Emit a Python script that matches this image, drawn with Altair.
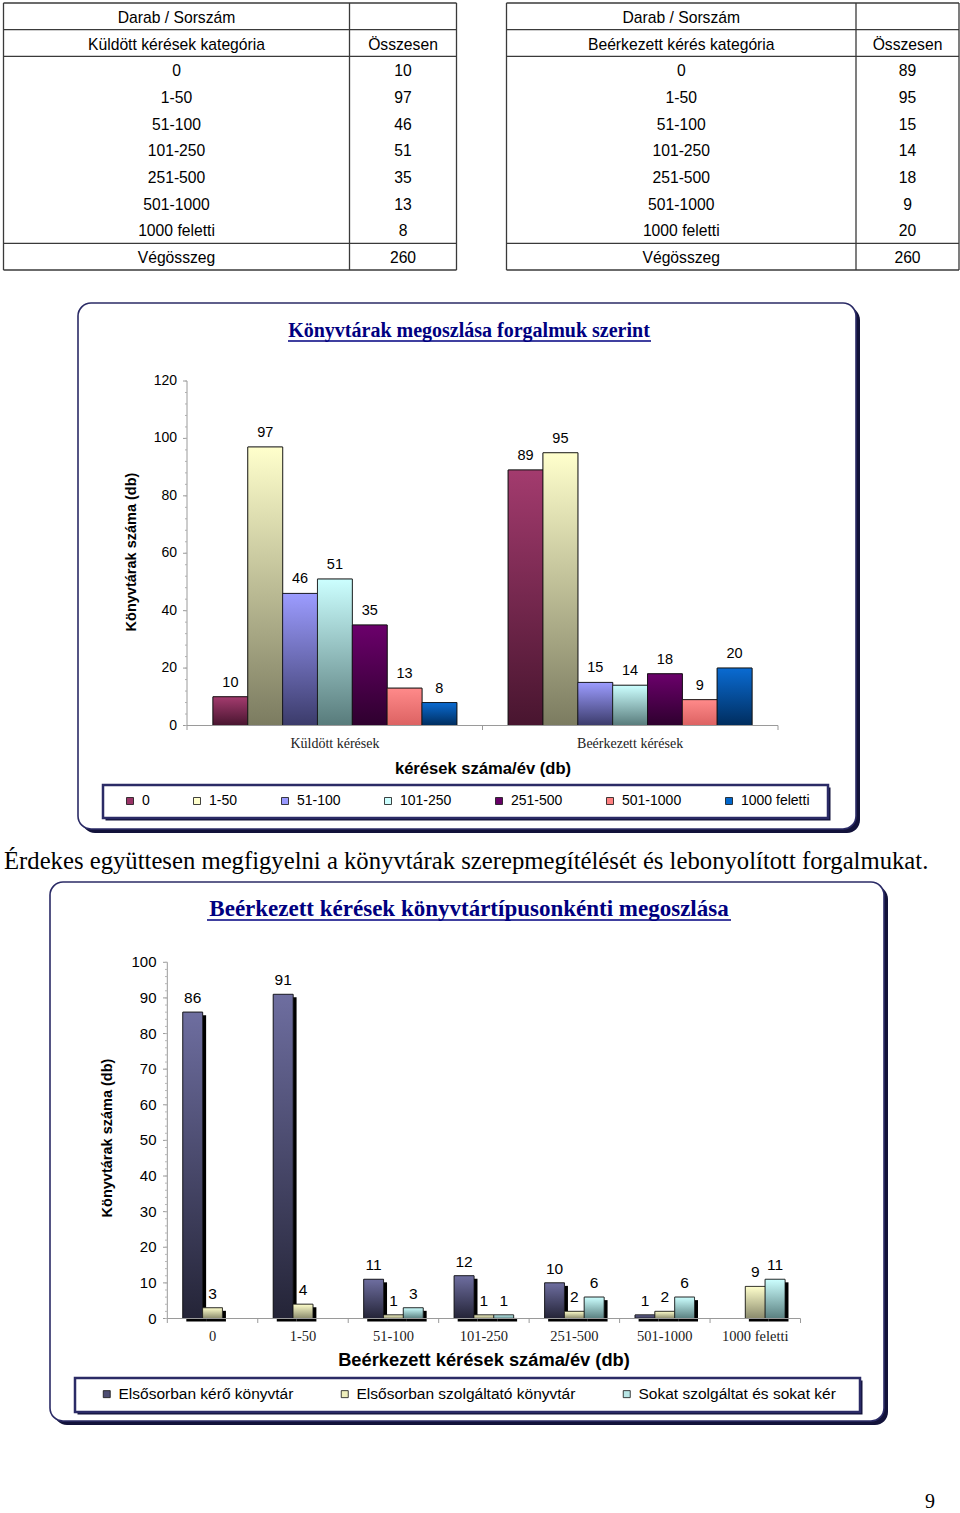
import altair as alt
import pandas as pd

# ---------------- data ----------------
categories = ["0", "1-50", "51-100", "101-250", "251-500", "501-1000", "1000 feletti"]
sent_counts = [10, 97, 46, 51, 35, 13, 8]
recv_counts = [89, 95, 15, 14, 18, 9, 20]
sent_total = 260
recv_total = 260

groups = ["Küldött kérések", "Beérkezett kérések"]

series2 = ["Elsősorban kérő könyvtár", "Elsősorban szolgáltató könyvtár",
           "Sokat szolgáltat és sokat kér"]
requester = [86, 91, 11, 12, 10, 1, None]
provider = [3, 4, 1, 1, 2, 2, 9]
both = [None, None, 3, 1, 6, 6, 11]

y1_ticks = [0, 20, 40, 60, 80, 100, 120]
y2_ticks = [0, 10, 20, 30, 40, 50, 60, 70, 80, 90, 100]

title1 = "Könyvtárak megoszlása forgalmuk szerint"
title2 = "Beérkezett kérések könyvtártípusonkénti megoszlása"
ytitle = "Könyvtárak száma (db)"
xtitle1 = "kérések száma/év (db)"
xtitle2 = "Beérkezett kérések száma/év (db)"
body_text = "Érdekes együttesen megfigyelni a könyvtárak szerepmegítélését és lebonyolított forgalmukat."
page_no = "9"

# ---------------- styling ----------------
SANS = "Liberation Sans"
SERIF = "Liberation Serif"
NAVY = "#000080"
FRAME = "#2b2b66"
SHADOW = "#12123a"

one = pd.DataFrame({"k": [0]})
layers = []


def grad(top, bottom):
    return alt.Gradient(gradient="linear",
                        stops=[alt.GradientStop(color=top, offset=0),
                               alt.GradientStop(color=bottom, offset=1)],
                        x1=0, x2=0, y1=0, y2=1)


def box(x0, y0, x1, y1, r, sh, sw):
    sh_l = alt.Chart(one).mark_rect(cornerRadius=r, fill=SHADOW).encode(
        x=alt.value(x0 + sh), x2=alt.value(x1 + sh),
        y=alt.value(y0 + sh), y2=alt.value(y1 + sh))
    main = alt.Chart(one).mark_rect(cornerRadius=r, fill="white", stroke=FRAME,
                                    strokeWidth=sw).encode(
        x=alt.value(x0), x2=alt.value(x1), y=alt.value(y0), y2=alt.value(y1))
    return [sh_l, main]


def label(text, x, y, size, font=SANS, weight="normal", color="black", angle=0,
          align="center"):
    return alt.Chart(one).mark_text(font=font, fontSize=size, fontWeight=weight,
                                    color=color, angle=angle, align=align,
                                    baseline="middle").encode(
        x=alt.value(x), y=alt.value(y), text=alt.value(text))


# ---------------- tables ----------------
rows = ["r%d" % i for i in range(10)]


def table(x0, xdiv, x1, header, counts, total):
    left = ["Darab / Sorszám", header] + categories + ["Végösszeg"]
    right = ["", "Összesen"] + [str(v) for v in counts] + [str(total)]
    df = pd.DataFrame({"row": rows, "a": left, "b": right})
    ys = alt.Scale(type="band", domain=rows, range=[3, 270], paddingInner=0, paddingOuter=0)
    out = []
    out.append(alt.Chart(df).mark_text(font=SANS, fontSize=15.7, baseline="middle", dy=1.5).encode(
        y=alt.Y("row:N", scale=ys, axis=None), x=alt.value((x0 + xdiv) / 2), text="a:N"))
    out.append(alt.Chart(df).mark_text(font=SANS, fontSize=15.7, baseline="middle", dy=1.5).encode(
        y=alt.Y("row:N", scale=ys, axis=None), x=alt.value((xdiv + x1) / 2), text="b:N"))
    hl = pd.DataFrame({"row": ["r0", "r1", "r2", "r9"]})
    out.append(alt.Chart(hl).mark_rule(color="#3a3a3a", strokeWidth=1.3).encode(
        y=alt.Y("row:N", scale=ys, axis=None, bandPosition=0),
        x=alt.value(x0), x2=alt.value(x1)))
    out.append(alt.Chart(pd.DataFrame({"row": ["r9"]})).mark_rule(color="#3a3a3a", strokeWidth=1.3).encode(
        y=alt.Y("row:N", scale=ys, axis=None, bandPosition=1),
        x=alt.value(x0), x2=alt.value(x1)))
    vl = pd.DataFrame({"px": [x0, xdiv, x1]})
    out.append(alt.Chart(vl).mark_rule(color="#3a3a3a", strokeWidth=1.3).encode(
        x=alt.X("px:Q", scale=None), y=alt.value(3), y2=alt.value(270)))
    return out


layers += table(3.5, 349.5, 456.5, "Küldött kérések kategória", sent_counts, sent_total)
layers += table(506.5, 856, 959, "Beérkezett kérés kategória", recv_counts, recv_total)

# ---------------- chart 1 ----------------
layers += box(78, 303, 856, 829, 13, 4, 1.6)
layers += box(103, 785, 828, 818, 0, 2.5, 2.5)

df1 = pd.DataFrame({
    "group": [groups[0]] * 7 + [groups[1]] * 7,
    "cat": categories * 2,
    "v": sent_counts + recv_counts,
})

xs1 = alt.Scale(type="band", domain=groups, range=[187, 778], paddingInner=0.174, paddingOuter=0.088)
xo1 = alt.Scale(type="band", domain=categories, paddingInner=0, paddingOuter=0)
ys1 = alt.Scale(domain=[0, 120], range=[725.5, 381], nice=False)


def enc1():
    return dict(x=alt.X("group:N", scale=xs1, axis=None),
                xOffset=alt.XOffset("cat:N", scale=xo1),
                y=alt.Y("v:Q", scale=ys1, axis=None))


legend_cols1 = ["#993366", "#ffffcc", "#9999ff", "#ccffff", "#660066", "#ff8080", "#0066cc"]
grad_cols1 = [("#a33b6e", "#48152f"), ("#ffffcc", "#7b7b60"), ("#9c9cff", "#3b3b6a"),
              ("#ccffff", "#587b7b"), ("#6b006b", "#2e002e"), ("#ff8a8a", "#dc6262"),
              ("#0a6bd2", "#002d5e")]

layers.append(alt.Chart(df1).mark_bar(stroke="#111111", strokeWidth=0.8).encode(
    **enc1(),
    color=alt.Color("cat:N", scale=alt.Scale(domain=categories, range=legend_cols1),
                    legend=alt.Legend(orient="none", legendX=123, legendY=794,
                                      direction="horizontal", title=None,
                                      symbolType="square", symbolSize=49,
                                      symbolStrokeColor="#111111", symbolStrokeWidth=0.8,
                                      labelFont=SANS, labelFontSize=14, labelLimit=400,
                                      labelOffset=5, columnPadding=40, padding=0))))
for c, (top, bot) in zip(categories, grad_cols1):
    layers.append(alt.Chart(df1).transform_filter(alt.datum.cat == c).mark_bar(
        fill=grad(top, bot), stroke="#111111", strokeWidth=0.8).encode(**enc1()))

layers.append(alt.Chart(df1).mark_text(font=SANS, fontSize=14.5, dy=-10,
                                       baseline="alphabetic").encode(**enc1(), text="v:Q"))

# axes chart 1
layers.append(alt.Chart(one).mark_rule(color="#9a9a9a", strokeWidth=1).encode(
    x=alt.value(187), y=alt.YDatum(0, scale=ys1, axis=None), y2=alt.Y2Datum(120)))
layers.append(alt.Chart(one).mark_rule(color="#9a9a9a", strokeWidth=1).encode(
    y=alt.YDatum(0, scale=ys1, axis=None), x=alt.value(187), x2=alt.value(778)))
layers.append(alt.Chart(pd.DataFrame({"t": y1_ticks})).mark_rule(color="#9a9a9a").encode(
    y=alt.Y("t:Q", scale=ys1, axis=None), x=alt.value(183), x2=alt.value(187)))
layers.append(alt.Chart(pd.DataFrame({"t": list(range(0, 121, 4))})).mark_rule(color="#b0b0b0").encode(
    y=alt.Y("t:Q", scale=ys1, axis=None), x=alt.value(185), x2=alt.value(187)))
layers.append(alt.Chart(pd.DataFrame({"t": y1_ticks})).mark_text(
    font=SANS, fontSize=14, align="right", baseline="middle").encode(
    y=alt.Y("t:Q", scale=ys1, axis=None), x=alt.value(177), text="t:Q"))
layers.append(alt.Chart(pd.DataFrame({"px": [187, 482.5, 778]})).mark_rule(color="#9a9a9a").encode(
    x=alt.X("px:Q", scale=None), y=alt.value(725.5), y2=alt.value(730)))
layers.append(alt.Chart(pd.DataFrame({"group": groups})).mark_text(
    font=SERIF, fontSize=14, baseline="middle", color="#222222").encode(
    x=alt.X("group:N", scale=xs1, axis=None), y=alt.value(744), text="group:N"))

layers.append(label(title1, 469, 331, 20, SERIF, "bold", NAVY))
layers.append(alt.Chart(one).mark_rule(color=NAVY, strokeWidth=1.5).encode(
    x=alt.value(288), x2=alt.value(651), y=alt.value(341), y2=alt.value(341)))
layers.append(label(ytitle, 132, 552, 14.5, SANS, "bold", angle=270))
layers.append(label(xtitle1, 483, 769, 16.6, SANS, "bold"))

# ---------------- body text ----------------
layers.append(label(body_text, 4, 862, 24.7, SERIF, "normal", align="left"))

# ---------------- chart 2 ----------------
layers += box(50, 882, 884, 1421, 13, 4, 1.6)
layers += box(75, 1378, 860, 1412, 0, 2.5, 2.5)

recs = []
for i, c in enumerate(categories):
    for s, arr in zip(series2, [requester, provider, both]):
        if arr[i] is not None:
            recs.append({"cat": c, "s": s, "v": arr[i]})
df2 = pd.DataFrame(recs)

X2_RANGE = [167.3, 800.5]
Y2_RANGE = [1318.5, 962.3]
xs2 = alt.Scale(type="band", domain=categories, range=X2_RANGE, paddingInner=0.343, paddingOuter=0.1715)
xo2 = alt.Scale(type="band", domain=series2, paddingInner=0, paddingOuter=0)
ys2 = alt.Scale(domain=[0, 100], range=Y2_RANGE, nice=False)
# shadow: same scales shifted right/down a few pixels
xs2s = alt.Scale(type="band", domain=categories, range=[X2_RANGE[0] + 3.5, X2_RANGE[1] + 3.5],
                 paddingInner=0.343, paddingOuter=0.1715)
ys2s = alt.Scale(domain=[0, 100], range=[Y2_RANGE[0] + 3, Y2_RANGE[1] + 3], nice=False)


def enc2():
    return dict(x=alt.X("cat:N", scale=xs2, axis=None),
                xOffset=alt.XOffset("s:N", scale=xo2),
                y=alt.Y("v:Q", scale=ys2, axis=None))


legend_cols2 = ["#4d4d72", "#eeeebb", "#b8e6e6"]
grad_cols2 = [("#6e6ea0", "#242437"), ("#ffffcc", "#8a8a6c"), ("#ccffff", "#5a8080")]

layers.append(alt.Chart(df2).mark_bar(fill="black").encode(
    x=alt.X("cat:N", scale=xs2s, axis=None),
    xOffset=alt.XOffset("s:N", scale=xo2),
    y=alt.Y("v:Q", scale=ys2s, axis=None),
    y2=alt.value(Y2_RANGE[0])))
layers.append(alt.Chart(df2).mark_bar(stroke="#111111", strokeWidth=0.7).encode(
    **enc2(),
    color=alt.Color("s:N", scale=alt.Scale(domain=series2, range=legend_cols2),
                    legend=alt.Legend(orient="none", legendX=99, legendY=1386,
                                      direction="horizontal", title=None,
                                      symbolType="square", symbolSize=49,
                                      symbolStrokeColor="#111111", symbolStrokeWidth=0.8,
                                      labelFont=SANS, labelFontSize=15.5, labelLimit=400,
                                      labelOffset=4, columnPadding=43, padding=0))))
for s, (top, bot) in zip(series2, grad_cols2):
    layers.append(alt.Chart(df2).transform_filter(alt.datum.s == s).mark_bar(
        fill=grad(top, bot), stroke="#111111", strokeWidth=0.7).encode(**enc2()))

layers.append(alt.Chart(df2).mark_text(font=SANS, fontSize=15.5, dy=-9,
                                       baseline="alphabetic").encode(**enc2(), text="v:Q"))

# axes chart 2
layers.append(alt.Chart(one).mark_rule(color="#9a9a9a", strokeWidth=1).encode(
    x=alt.value(167.3), y=alt.YDatum(0, scale=ys2, axis=None), y2=alt.Y2Datum(100)))
layers.append(alt.Chart(one).mark_rule(color="#9a9a9a", strokeWidth=1).encode(
    y=alt.YDatum(0, scale=ys2, axis=None), x=alt.value(167.3), x2=alt.value(800.5)))
layers.append(alt.Chart(pd.DataFrame({"t": y2_ticks})).mark_rule(color="#9a9a9a").encode(
    y=alt.Y("t:Q", scale=ys2, axis=None), x=alt.value(163), x2=alt.value(167.3)))
layers.append(alt.Chart(pd.DataFrame({"t": list(range(0, 101, 2))})).mark_rule(color="#b8b8b8").encode(
    y=alt.Y("t:Q", scale=ys2, axis=None), x=alt.value(165), x2=alt.value(167.3)))
layers.append(alt.Chart(pd.DataFrame({"t": y2_ticks})).mark_text(
    font=SANS, fontSize=15, align="right", baseline="middle").encode(
    y=alt.Y("t:Q", scale=ys2, axis=None), x=alt.value(156.5), text="t:Q"))
layers.append(alt.Chart(pd.DataFrame({"px": [167.3 + i * 90.46 for i in range(8)]})).mark_rule(color="#9a9a9a").encode(
    x=alt.X("px:Q", scale=None), y=alt.value(1318.5), y2=alt.value(1323)))
layers.append(alt.Chart(pd.DataFrame({"cat": categories})).mark_text(
    font=SERIF, fontSize=14.5, baseline="middle", color="#222222").encode(
    x=alt.X("cat:N", scale=xs2, axis=None), y=alt.value(1337), text="cat:N"))

layers.append(label(title2, 469, 909, 23, SERIF, "bold", NAVY))
layers.append(alt.Chart(one).mark_rule(color=NAVY, strokeWidth=1.5).encode(
    x=alt.value(207), x2=alt.value(731), y=alt.value(920), y2=alt.value(920)))
layers.append(label(ytitle, 108, 1138, 14.5, SANS, "bold", angle=270))
layers.append(label(xtitle2, 484, 1361, 18.3, SANS, "bold"))

# page number
layers.append(label(page_no, 930, 1502, 20, SERIF, "normal"))

chart = alt.layer(*layers).resolve_scale(
    x="independent", y="independent", color="independent", xOffset="independent"
).properties(
    width=960, height=1513, padding=0, autosize=alt.AutoSizeParams(type="none"),
    background="white"
).configure_view(stroke=None)

chart.save("out.html", embed_options={"renderer": "svg", "actions": False})
